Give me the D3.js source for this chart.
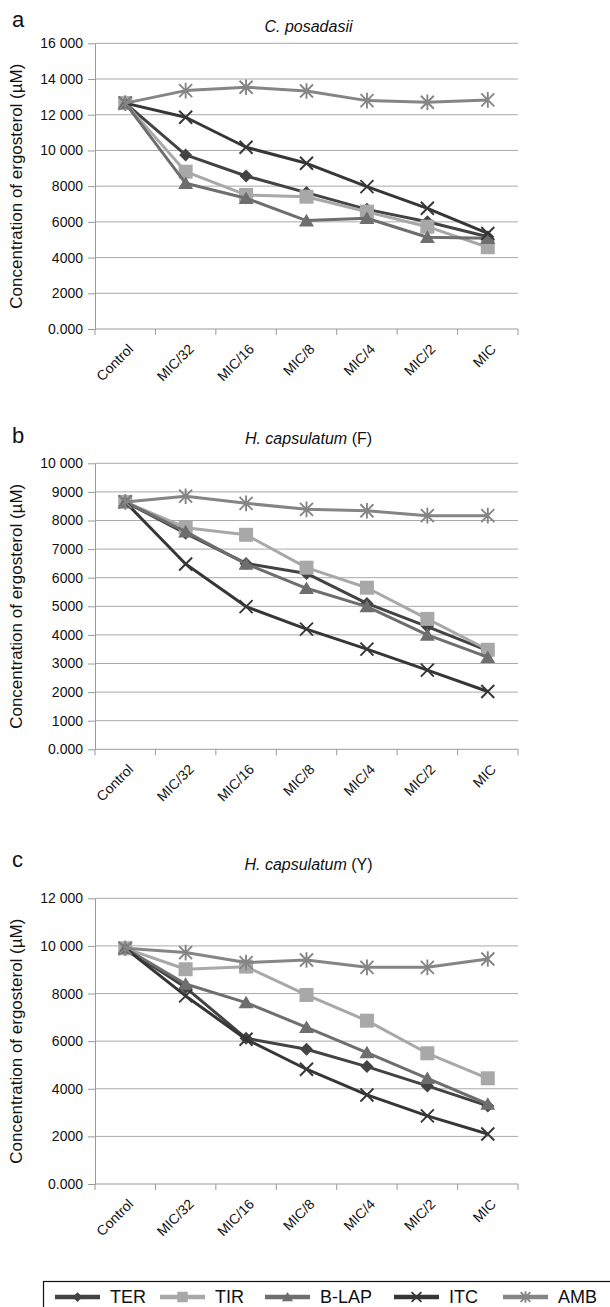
<!DOCTYPE html>
<html>
<head>
<meta charset="utf-8">
<script src="https://cdn.jsdelivr.net/npm/d3@7"></script>
<style>
  body { margin: 0; background: #fff; }
  svg { display: block; font-family: "Liberation Sans", Arial, sans-serif; }
</style>
</head>
<body>
<div id="chart"></div>
<script>

// categories and series names
const categories = ["Control", "MIC/32", "MIC/16", "MIC/8", "MIC/4", "MIC/2", "MIC"]
const seriesNames = ["TER", "TIR", "B-LAP", "ITC", "AMB"]

// a - C. posadasii
const terA  = [12650, 9750, 8570, 7640, 6700, 6010, 5170]
const tirA  = [12650, 8810, 7510, 7410, 6570, 5730, 4580]
const blapA = [12650, 8160, 7320, 6070, 6200, 5140, 5080]
const itcA  = [12650, 11860, 10180, 9280, 7970, 6760, 5350]
const ambA  = [12650, 13350, 13540, 13330, 12790, 12700, 12830]
const ticksA = [0, 2000, 4000, 6000, 8000, 10000, 12000, 14000, 16000]

// b - H. capsulatum (F)
const terB  = [8650, 7550, 6500, 6150, 5100, 4290, 3450]
const tirB  = [8650, 7750, 7500, 6350, 5650, 4560, 3480]
const blapB = [8650, 7610, 6480, 5630, 4990, 4000, 3220]
const itcB  = [8650, 6480, 4990, 4200, 3500, 2770, 2020]
const ambB  = [8650, 8850, 8600, 8390, 8340, 8170, 8170]
const ticksB = [0, 1000, 2000, 3000, 4000, 5000, 6000, 7000, 8000, 9000, 10000]

// c - H. capsulatum (Y)
const terC  = [9900, 8250, 6120, 5660, 4930, 4120, 3280]
const tirC  = [9900, 9020, 9130, 7940, 6860, 5490, 4440]
const blapC = [9900, 8400, 7620, 6580, 5520, 4440, 3360]
const itcC  = [9900, 7900, 6080, 4820, 3740, 2860, 2100]
const ambC  = [9900, 9720, 9300, 9410, 9100, 9100, 9450]
const ticksC = [0, 2000, 4000, 6000, 8000, 10000, 12000]

const styles = {
  "TER":   { color: "#434343", marker: "diamond" },
  "TIR":   { color: "#a8a8a8", marker: "square" },
  "B-LAP": { color: "#6e6e6e", marker: "triangle" },
  "ITC":   { color: "#363636", marker: "cross" },
  "AMB":   { color: "#858585", marker: "star" }
}

const panels = [
  { letter: "a", italic: "C. posadasii", rest: "", values: [terA, tirA, blapA, itcA, ambA], ticks: ticksA,
    top: 43.3, bottom: 329, letterY: 27, titleY: 31.5 },
  { letter: "b", italic: "H. capsulatum", rest: " (F)", values: [terB, tirB, blapB, itcB, ambB], ticks: ticksB,
    top: 463.3, bottom: 749.3, letterY: 443, titleY: 444 },
  { letter: "c", italic: "H. capsulatum", rest: " (Y)", values: [terC, tirC, blapC, itcC, ambC], ticks: ticksC,
    top: 898.3, bottom: 1184, letterY: 867, titleY: 870 }
]

const W = 610, H = 1307
const left = 95, right = 518

const svg = d3.select("#chart").append("svg")
  .attr("width", W)
  .attr("height", H)

function fmt(v) {
  if (v === 0) return "0.000"
  if (v >= 10000) return d3.format(",")(v).replace(",", " ")
  return String(v)
}

function marker(g, type, color, s) {
  if (type == "diamond") {
    g.append("path").attr("d", `M0,${-s}L${s},0L0,${s}L${-s},0Z`).attr("fill", color)
  } else if (type == "square") {
    g.append("rect").attr("x", -s).attr("y", -s).attr("width", 2 * s).attr("height", 2 * s).attr("fill", color)
  } else if (type == "triangle") {
    g.append("path").attr("d", `M0,${-s}L${s * 1.1},${s * 0.85}L${-s * 1.1},${s * 0.85}Z`).attr("fill", color)
  } else if (type == "cross") {
    g.append("path").attr("d", `M${-s},${-s}L${s},${s}M${-s},${s}L${s},${-s}`)
      .attr("stroke", color).attr("stroke-width", 1.9).attr("fill", "none")
  } else if (type == "star") {
    g.append("path").attr("d", `M${-s},${-s}L${s},${s}M${-s},${s}L${s},${-s}M0,${-s * 1.2}L0,${s * 1.2}`)
      .attr("stroke", color).attr("stroke-width", 1.9).attr("fill", "none")
  }
}

const markerSize = { diamond: 6.5, square: 7, triangle: 6.8, cross: 6.5, star: 6.5 }

panels.forEach(p => {

  var x = d3.scaleBand().domain(categories).range([left, right])
  var y = d3.scaleLinear().domain([0, d3.max(p.ticks)]).range([p.bottom, p.top])

  var g = svg.append("g")

  // grid
  g.append("g")
    .selectAll("line")
    .data(p.ticks.filter(t => t > 0))
    .join("line")
      .attr("x1", left).attr("x2", right)
      .attr("y1", d => y(d)).attr("y2", d => y(d))
      .attr("stroke", "#a9a9a9")
      .attr("stroke-width", 1)

  // y axis
  var ya = g.append("g")
    .attr("transform", `translate(${left},0)`)
    .call(d3.axisLeft(y).tickValues(p.ticks).tickFormat(fmt).tickSize(7).tickSizeOuter(0).tickPadding(5))
  ya.select(".domain").attr("stroke", "#9a9a9a")
  ya.selectAll(".tick line").attr("stroke", "#9a9a9a")
  ya.selectAll(".tick text").attr("font-size", 14).attr("fill", "#111").attr("font-family", "Liberation Sans, Arial, sans-serif")

  // x axis
  g.append("line")
    .attr("x1", left).attr("x2", right)
    .attr("y1", p.bottom).attr("y2", p.bottom)
    .attr("stroke", "#9a9a9a")

  g.append("g")
    .selectAll("line")
    .data(categories.map(c => x(c)).concat([right]))
    .join("line")
      .attr("x1", d => d).attr("x2", d => d)
      .attr("y1", p.bottom).attr("y2", p.bottom + 6)
      .attr("stroke", "#9a9a9a")

  g.append("g")
    .selectAll("text")
    .data(categories)
    .join("text")
      .attr("transform", d => `translate(${x(d) + x.bandwidth() / 2 + 9},${p.bottom + 21}) rotate(-45)`)
      .attr("text-anchor", "end")
      .attr("font-size", 14)
      .attr("fill", "#111")
      .text(d => d)

  // y title
  g.append("text")
    .attr("transform", `translate(22,${(p.top + p.bottom) / 2}) rotate(-90)`)
    .attr("text-anchor", "middle")
    .attr("font-size", 17)
    .attr("fill", "#111")
    .text("Concentration of ergosterol (\u00b5M)")

  // panel letter
  g.append("text")
    .attr("x", 12)
    .attr("y", p.letterY)
    .attr("font-size", 22)
    .attr("fill", "#111")
    .text(p.letter)

  // title
  var t = g.append("text")
    .attr("x", (left + right) / 2 + 2)
    .attr("y", p.titleY)
    .attr("text-anchor", "middle")
    .attr("font-size", 16)
    .attr("fill", "#111")
  t.append("tspan").attr("font-style", "italic").text(p.italic)
  t.append("tspan").text(p.rest)

  // lines and markers
  var line = d3.line()
    .x((d, i) => x(categories[i]) + x.bandwidth() / 2)
    .y(d => y(d))

  seriesNames.forEach((name, si) => {
    var st = styles[name]
    var vals = p.values[si]
    g.append("path")
      .datum(vals)
      .attr("d", line)
      .attr("fill", "none")
      .attr("stroke", st.color)
      .attr("stroke-width", 3)
      .attr("stroke-linejoin", "round")

    vals.forEach((v, i) => {
      var m = g.append("g")
        .attr("transform", `translate(${x(categories[i]) + x.bandwidth() / 2},${y(v)})`)
      marker(m, st.marker, st.color, markerSize[st.marker])
    })
  })
})

// legend
var legendX = [55, 160, 265, 394, 503]
var legendY = 1297

var lg = svg.append("g")

lg.append("rect")
  .attr("x", 43.5).attr("y", 1281.5)
  .attr("width", 600).attr("height", 60)
  .attr("fill", "none")
  .attr("stroke", "#111")
  .attr("stroke-width", 1.2)

seriesNames.forEach((name, i) => {
  var st = styles[name]
  var item = lg.append("g").attr("transform", `translate(${legendX[i]},${legendY})`)
  item.append("line")
    .attr("x1", 0).attr("x2", 45)
    .attr("y1", 0).attr("y2", 0)
    .attr("stroke", st.color)
    .attr("stroke-width", 4.5)
  var m = item.append("g").attr("transform", "translate(22.5,0)")
  marker(m, st.marker, st.color, markerSize[st.marker] * 0.75)
  item.append("text")
    .attr("x", 55)
    .attr("dy", "0.35em")
    .attr("font-size", 18)
    .attr("fill", "#111")
    .text(name)
})

</script>
</body>
</html>
